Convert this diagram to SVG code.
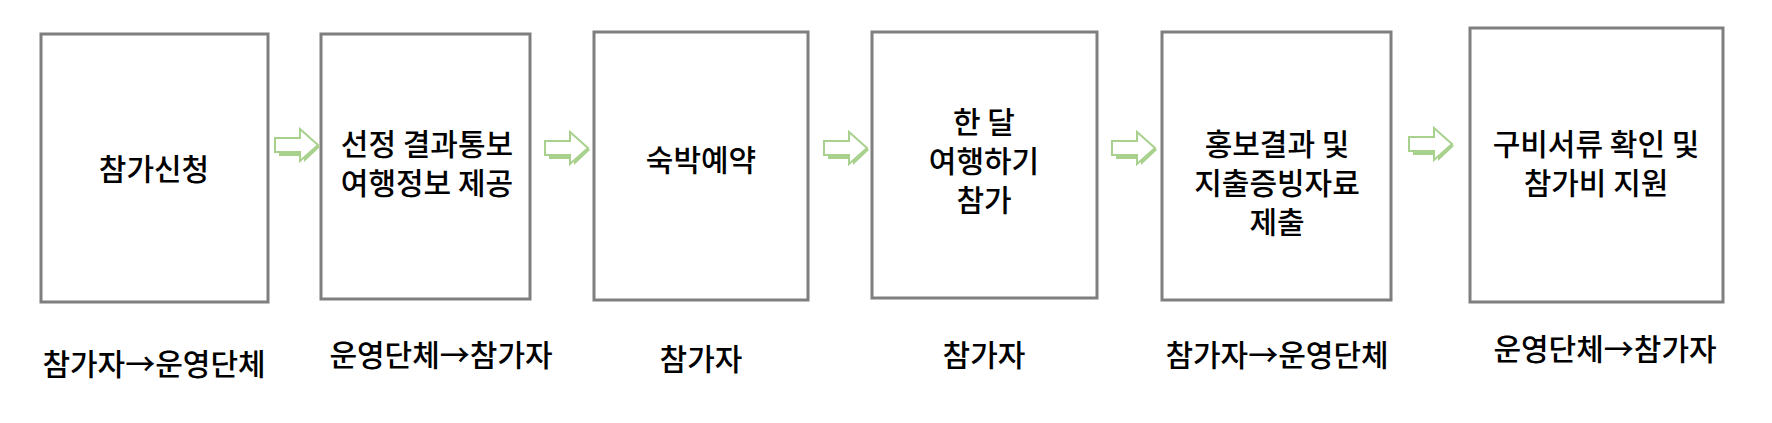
<svg xmlns="http://www.w3.org/2000/svg" width="1772" height="423" viewBox="0 0 1772 423">
<style>
.box{fill:#fff;stroke:#7f7f7f;stroke-width:3}
.t{font-family:"Noto Sans CJK KR","Noto Sans",sans-serif;font-size:30px;font-weight:500;fill:#000;text-anchor:middle}
.ar{fill:#fff;stroke:#a9d18e;stroke-width:2}
.sh{fill:#a9d18e}
</style>
<defs>
<g id="arr">
<path class="sh" d="M4,13 H29 V4 L45,18 L29,33 V27 H4 Z"/>
<path class="ar" d="M0,9 H25 V0 L43,16 L25,32 V23 H0 Z"/>
</g>
</defs>
<rect width="1772" height="423" fill="#fff"/>
<g id="n1"><rect class="box" x="41" y="34" width="227" height="268"/><text class="t" x="154" y="180">참가신청</text></g>
<g id="n2"><rect class="box" x="321" y="34" width="209" height="265"/><text class="t" x="427" y="155">선정 결과통보</text><text class="t" x="427" y="194">여행정보 제공</text></g>
<g id="n3"><rect class="box" x="594" y="32" width="214" height="268"/><text class="t" x="701" y="171">숙박예약</text></g>
<g id="n4"><rect class="box" x="872" y="32" width="225" height="266"/><text class="t" x="984" y="133">한 달</text><text class="t" x="984" y="172">여행하기</text><text class="t" x="984" y="211">참가</text></g>
<g id="n5"><rect class="box" x="1162" y="32" width="229" height="268"/><text class="t" x="1277" y="155">홍보결과 및</text><text class="t" x="1277" y="194">지출증빙자료</text><text class="t" x="1277" y="233">제출</text></g>
<g id="n6"><rect class="box" x="1470" y="28" width="253" height="274"/><text class="t" x="1596" y="155">구비서류 확인 및</text><text class="t" x="1596" y="194">참가비 지원</text></g>
<g id="connectors">
<use href="#arr" x="275" y="129"/>
<use href="#arr" x="545" y="132"/>
<use href="#arr" x="824" y="132"/>
<use href="#arr" x="1112" y="132"/>
<use href="#arr" x="1409" y="128"/>
</g>
<g id="labels">
<text class="t" x="154" y="375">참가자→운영단체</text>
<text class="t" x="441" y="366">운영단체→참가자</text>
<text class="t" x="701" y="370">참가자</text>
<text class="t" x="984" y="366">참가자</text>
<text class="t" x="1277" y="366">참가자→운영단체</text>
<text class="t" x="1605" y="360">운영단체→참가자</text>
</g>
</svg>
